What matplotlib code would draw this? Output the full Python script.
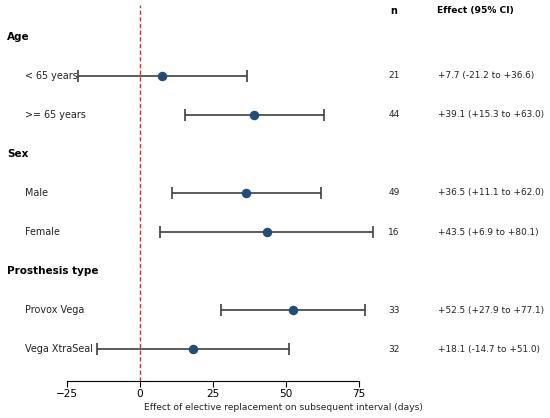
import matplotlib.pyplot as plt
import matplotlib.transforms as mtransforms
import numpy as np

# forest plot data
groups = ["Age", "Sex", "Prosthesis type"]
labels = ["< 65 years", ">= 65 years", "Male", "Female", "Provox Vega", "Vega XtraSeal"]
group_of = [0, 0, 1, 1, 2, 2]
n_pts = [21, 44, 49, 16, 33, 32]
effect = [7.7, 39.1, 36.5, 43.5, 52.5, 18.1]
ci_low = [-21.2, 15.3, 11.1, 6.9, 27.9, -14.7]
ci_high = [36.6, 63.0, 62.0, 80.1, 77.1, 51.0]

fig = plt.figure(figsize=(5.5, 4.18), dpi=100)
W, H = 550, 418
ax = fig.add_axes([67 / W, 1 - 381 / H, 312 / W, 376 / H])

# build row layout: group header then its members
rows = []
r = 0
for g in range(len(groups)):
    rows.append(("h", g, r))
    r += 1
    for i in range(len(labels)):
        if group_of[i] == g:
            rows.append(("i", i, r))
            r += 1
nrows = r

# x in figure pixels, y in data rows
tr = mtransforms.blended_transform_factory(fig.transFigure, ax.transData)
txt_col = "#222222"

for kind, idx, y in rows:
    if kind == "h":
        ax.text(7 / W, y, groups[idx], transform=tr, fontsize=7.5,
                fontweight="bold", va="center", ha="left", color="black")
    else:
        ax.errorbar(effect[idx], y, xerr=[[effect[idx] - ci_low[idx]], [ci_high[idx] - effect[idx]]],
                    fmt="o", color="#1f4e79", ecolor="#404040", elinewidth=1.2, capsize=4.3,
                    capthick=1.2, markersize=5.8, zorder=3)
        ax.text(25 / W, y, labels[idx], transform=tr, fontsize=6.9,
                va="center", ha="left", color=txt_col)
        ax.text(394 / W, y, str(n_pts[idx]), transform=tr, fontsize=6.5,
                va="center", ha="center", color=txt_col)
        ax.text(438 / W, y, "%+.1f (%+.1f to %+.1f)" % (effect[idx], ci_low[idx], ci_high[idx]),
                transform=tr, fontsize=6.4, va="center", ha="left", color=txt_col)

fig.text(394 / W, 1 - 11 / H, "n", fontsize=6.9, fontweight="bold", va="center", ha="center")
fig.text(437 / W, 1 - 11 / H, "Effect (95% CI)", fontsize=6.6, fontweight="bold",
         va="center", ha="left")

ax.axvline(0, color="#c8332a", linestyle=(0, (3, 1.8)), linewidth=1.0, zorder=1)

ax.set_xlim(-25, 82)
ax.set_ylim(nrows - 1 + 0.82, -0.82)
ax.set_xticks([-25, 0, 25, 50, 75])
ax.tick_params(axis="x", labelsize=7.6, length=4, pad=2)
ax.set_yticks([])
for s in ["top", "right", "left"]:
    ax.spines[s].set_visible(False)
ax.spines["bottom"].set_bounds(-25, 75)

fig.text(283 / W, 1 - 407 / H, "Effect of elective replacement on subsequent interval (days)",
         fontsize=6.6, ha="center", va="center", color=txt_col)

plt.savefig("out.png", dpi=100)
